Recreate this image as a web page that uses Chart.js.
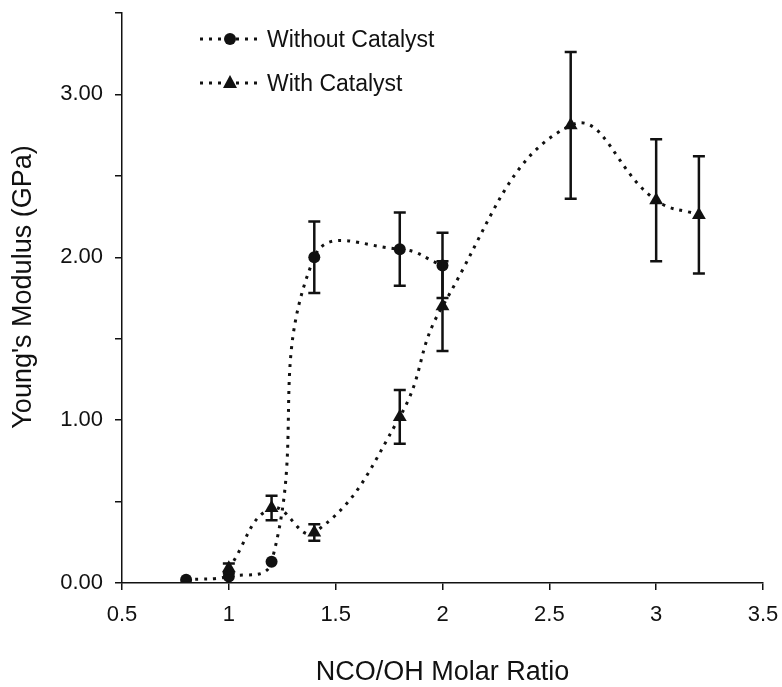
<!DOCTYPE html>
<html lang="en">
<head>
    <meta charset="UTF-8">
    <title>Young's Modulus vs NCO/OH Ratio</title>
    <script src="https://cdn.jsdelivr.net/npm/chart.js"></script>
    <style>
        html, body { margin: 0; padding: 0; background: #fff; }
        canvas { display: block; }
    </style>
</head>
<body>
    <canvas id="modulusChart" width="782" height="687"></canvas>

    <script>
        // measured modulus values (GPa) with +/- error
        const ratioNoCat = [0.8, 1.0, 1.2, 1.4, 1.8, 2.0];
        const modulusNoCat = [0.02, 0.04, 0.13, 2.00, 2.05, 1.95];
        const errNoCat = [0, 0, 0, 0.22, 0.225, 0.20];

        const ratioCat = [1.0, 1.2, 1.4, 1.8, 2.0, 2.6, 3.0, 3.2];
        const modulusCat = [0.09, 0.46, 0.31, 1.02, 1.70, 2.81, 2.35, 2.26];
        const errCat = [0.03, 0.075, 0.05, 0.165, 0.275, 0.45, 0.375, 0.36];

        const seriesNames = ["Without Catalyst", "With Catalyst"];
        const xTitle = "NCO/OH Molar Ratio";
        const yTitle = "Young's Modulus (GPa)";

        const ink = "#111";
        const font = "'Liberation Sans', Arial, Helvetica, sans-serif";

        function toPoints(xs, ys) {
            return xs.map((x, i) => ({ x: x, y: ys[i] }));
        }

        function markerPath(ctx, style, x, y) {
            ctx.beginPath();
            if (style === "circle") {
                ctx.arc(x, y, 6, 0, Math.PI * 2);
            } else {
                ctx.moveTo(x, y - 8);
                ctx.lineTo(x + 7, y + 5);
                ctx.lineTo(x - 7, y + 5);
                ctx.closePath();
            }
            ctx.fill();
        }

        // vertical error bars with caps
        const errorBars = {
            id: "errorBars",
            afterDatasetsDraw(chart) {
                const ctx = chart.ctx;
                const yScale = chart.scales.y;
                ctx.save();
                ctx.strokeStyle = ink;
                ctx.lineWidth = 2.5;
                chart.data.datasets.forEach((ds, di) => {
                    const meta = chart.getDatasetMeta(di);
                    ds.errors.forEach((e, i) => {
                        if (!e) return;
                        const px = meta.data[i].x;
                        const v = ds.data[i].y;
                        const top = yScale.getPixelForValue(v + e);
                        const bot = yScale.getPixelForValue(v - e);
                        ctx.beginPath();
                        ctx.moveTo(px, top);
                        ctx.lineTo(px, bot);
                        ctx.moveTo(px - 6, top);
                        ctx.lineTo(px + 6, top);
                        ctx.moveTo(px - 6, bot);
                        ctx.lineTo(px + 6, bot);
                        ctx.stroke();
                    });
                });
                ctx.restore();
            }
        };

        // legend in upper left of the plot, plus the rotated y title
        const dottedLegend = {
            id: "dottedLegend",
            afterDraw(chart) {
                const ctx = chart.ctx;
                ctx.save();
                chart.data.datasets.forEach((ds, i) => {
                    const y = 39 + i * 44;
                    ctx.strokeStyle = ink;
                    ctx.lineWidth = 3;
                    ctx.setLineDash([3, 6]);
                    ctx.beginPath();
                    ctx.moveTo(200, y);
                    ctx.lineTo(263, y);
                    ctx.stroke();
                    ctx.setLineDash([]);
                    ctx.fillStyle = ink;
                    markerPath(ctx, ds.pointStyle, 230, y);
                    ctx.font = "23px " + font;
                    ctx.textAlign = "left";
                    ctx.textBaseline = "middle";
                    ctx.fillText(ds.label, 267, y + 2);
                });

                ctx.translate(24, 287);
                ctx.rotate(-Math.PI / 2);
                ctx.font = "27px " + font;
                ctx.textAlign = "center";
                ctx.textBaseline = "middle";
                ctx.fillText(yTitle, 0, 0);
                ctx.restore();
            }
        };

        const lineStyle = {
            borderColor: ink,
            backgroundColor: ink,
            borderWidth: 3,
            borderDash: [3, 6],
            tension: 0.45,
            fill: false,
            pointBorderColor: ink,
            pointBackgroundColor: ink,
            pointBorderWidth: 0
        };

        new Chart(document.getElementById("modulusChart"), {
            type: "line",
            data: {
                datasets: [
                    Object.assign({
                        label: seriesNames[0],
                        data: toPoints(ratioNoCat, modulusNoCat),
                        errors: errNoCat,
                        pointStyle: "circle",
                        pointRadius: 6
                    }, lineStyle),
                    Object.assign({
                        label: seriesNames[1],
                        data: toPoints(ratioCat, modulusCat),
                        errors: errCat,
                        pointStyle: "triangle",
                        pointRadius: 8
                    }, lineStyle)
                ]
            },
            options: {
                responsive: false,
                animation: false,
                devicePixelRatio: 1,
                layout: { padding: { top: 13, right: 19, left: 0, bottom: 0 } },
                plugins: {
                    legend: { display: false },
                    tooltip: { enabled: false }
                },
                scales: {
                    x: {
                        type: "linear",
                        min: 0.5,
                        max: 3.5,
                        ticks: {
                            stepSize: 0.5,
                            color: ink,
                            padding: 12,
                            font: { family: font, size: 22 },
                            callback: v => String(v)
                        },
                        grid: { drawOnChartArea: false, drawTicks: true, tickLength: 7, color: ink, lineWidth: 1.5 },
                        border: { display: true, color: ink, width: 1.5 },
                        title: {
                            display: true,
                            text: xTitle,
                            color: ink,
                            font: { family: font, size: 27 },
                            padding: { top: 0, bottom: -2 }
                        },
                        afterFit(scale) {
                            scale.height = 104;
                            scale.paddingLeft = 0;
                            scale.paddingRight = 0;
                        }
                    },
                    y: {
                        min: 0,
                        max: 3.5,
                        ticks: {
                            stepSize: 0.5,
                            color: ink,
                            padding: 12,
                            font: { family: font, size: 22 },
                            callback: v => (v % 1 === 0 ? v.toFixed(2) : "")
                        },
                        grid: { drawOnChartArea: false, drawTicks: true, tickLength: 7, color: ink, lineWidth: 1.5 },
                        border: { display: true, color: ink, width: 1.5 },
                        afterFit(scale) {
                            scale.width = 122;
                            scale.paddingTop = 0;
                            scale.paddingBottom = 0;
                        }
                    }
                }
            },
            plugins: [errorBars, dottedLegend]
        });
    </script>
</body>
</html>
